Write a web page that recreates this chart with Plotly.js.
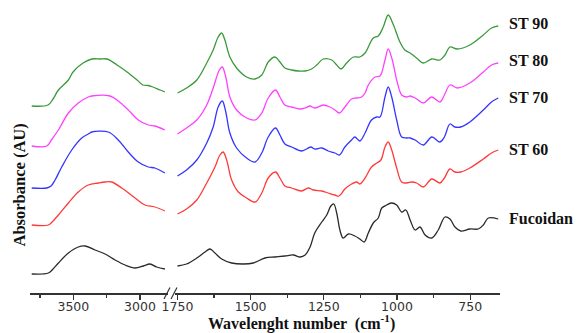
<!DOCTYPE html>
<html>
<head>
<meta charset="utf-8">
<script src="https://cdn.plot.ly/plotly-3.0.1.min.js"></script>
<style>html,body{margin:0;padding:0;background:#fff;}#chart{width:578px;height:333px;}</style>
</head>
<body>
<div id="chart"></div>
<script>
// ---------- DATA (wavenumber in cm-1, absorbance in AU, stacked as drawn) ----------
const seriesNames = ["ST 90", "ST 80", "ST 70", "ST 60", "Fucoidan"];

// ST 90
const st90LeftWn  = [3812,3690,3652,3612,3537,3502,3427,3360,3300,3247,3172,3097,3022,2978,2938,2903,2850,2813];
const st90LeftAbs = [1.87,1.88,1.94,2.03,2.13,2.21,2.30,2.34,2.34,2.34,2.28,2.21,2.13,2.08,2.075,2.06,2.03,2.01];
const st90RightWn  = [1750,1719,1684,1650,1628,1611,1599,1588,1571,1548,1514,1485,1462,1440,1417,1400,1383,1360,1337,1314,1292,1274,1252,1223,1206,1191,1172,1149,1127,1109,1081,1064,1047,1030,1012,990,973,955,933,910,881,853,836,819,794,751,705,677,654];
const st90RightAbs = [2.00,2.05,2.13,2.30,2.43,2.56,2.60,2.53,2.36,2.25,2.16,2.14,2.18,2.31,2.36,2.31,2.25,2.23,2.22,2.22,2.24,2.28,2.34,2.33,2.28,2.24,2.30,2.36,2.36,2.40,2.55,2.57,2.66,2.78,2.68,2.51,2.43,2.40,2.35,2.30,2.34,2.33,2.38,2.46,2.44,2.48,2.58,2.65,2.67];

// ST 80
const st80LeftWn  = [3812,3699,3660,3612,3537,3463,3388,3362,3225,3163,3088,3013,2938,2888,2813];
const st80LeftAbs = [1.47,1.47,1.54,1.63,1.80,1.90,1.96,1.97,1.97,1.92,1.83,1.73,1.68,1.67,1.63];
const st80RightWn  = [1750,1719,1684,1650,1628,1607,1597,1585,1571,1548,1514,1485,1462,1440,1415,1400,1383,1360,1331,1314,1297,1281,1252,1229,1212,1197,1178,1155,1138,1121,1109,1098,1075,1058,1041,1030,1016,1001,984,967,955,938,910,881,853,838,819,794,751,705,677,654];
const st80RightAbs = [1.59,1.65,1.73,1.88,2.05,2.23,2.26,2.16,1.96,1.83,1.75,1.73,1.80,1.95,2.03,1.96,1.88,1.86,1.84,1.85,1.87,1.85,1.88,1.86,1.83,1.80,1.86,1.94,1.95,1.96,2.00,2.08,2.16,2.17,2.33,2.44,2.33,2.13,1.98,1.96,1.97,1.95,1.90,1.96,1.91,1.98,2.08,2.05,2.10,2.21,2.28,2.30];

// ST 70
const st70LeftWn  = [3812,3699,3667,3637,3587,3512,3437,3375,3362,3238,3163,3088,3013,2938,2888,2813];
const st70LeftAbs = [1.05,1.05,1.07,1.13,1.26,1.43,1.55,1.60,1.61,1.61,1.53,1.41,1.31,1.26,1.25,1.20];
const st70RightWn  = [1750,1719,1684,1650,1628,1611,1597,1585,1571,1548,1514,1485,1462,1440,1415,1400,1383,1360,1326,1309,1294,1281,1257,1235,1212,1197,1178,1155,1144,1127,1109,1087,1069,1058,1041,1030,1018,1001,984,967,955,938,910,881,853,838,819,802,782,751,705,677,654];
const st70RightAbs = [1.17,1.23,1.33,1.50,1.66,1.86,1.92,1.81,1.60,1.45,1.35,1.31,1.40,1.56,1.65,1.58,1.49,1.46,1.42,1.44,1.46,1.44,1.45,1.42,1.40,1.38,1.46,1.53,1.56,1.52,1.60,1.73,1.76,1.76,1.96,2.06,1.96,1.73,1.56,1.55,1.55,1.53,1.48,1.56,1.51,1.56,1.69,1.66,1.66,1.71,1.83,1.91,1.95];

// ST 60
const st60LeftWn  = [3812,3687,3652,3612,3537,3463,3388,3313,3262,3212,3137,3037,2963,2888,2813];
const st60LeftAbs = [0.68,0.68,0.72,0.78,0.90,1.01,1.08,1.10,1.11,1.11,1.05,0.95,0.88,0.86,0.82];
const st60RightWn  = [1750,1719,1684,1650,1622,1605,1594,1582,1565,1542,1514,1485,1462,1440,1415,1400,1383,1360,1326,1303,1286,1257,1235,1212,1198,1178,1155,1138,1127,1109,1087,1069,1055,1041,1030,1018,1001,984,967,949,933,910,881,853,838,819,802,782,751,705,677,654];
const st60RightAbs = [0.79,0.84,0.93,1.10,1.26,1.38,1.41,1.33,1.13,1.01,0.95,0.91,1.00,1.15,1.21,1.15,1.07,1.05,1.02,1.05,1.03,1.02,1.00,0.98,0.97,1.04,1.09,1.11,1.09,1.15,1.26,1.30,1.33,1.46,1.51,1.43,1.25,1.11,1.10,1.11,1.10,1.06,1.14,1.10,1.15,1.24,1.21,1.21,1.25,1.34,1.40,1.43];

// Fucoidan
const fucLeftWn  = [3812,3687,3652,3612,3537,3463,3412,3337,3262,3187,3112,3037,2975,2925,2875,2813];
const fucLeftAbs = [0.19,0.20,0.24,0.30,0.40,0.46,0.47,0.43,0.39,0.33,0.28,0.25,0.27,0.29,0.26,0.24];
const fucRightWn  = [1750,1719,1684,1656,1639,1622,1599,1565,1525,1491,1451,1417,1383,1354,1331,1314,1297,1281,1257,1240,1226,1216,1206,1195,1184,1166,1144,1127,1112,1098,1081,1064,1052,1035,1018,1001,984,970,955,938,921,904,881,859,836,819,802,782,751,722,705,688,654];
const fucRightAbs = [0.27,0.29,0.35,0.41,0.44,0.40,0.34,0.30,0.29,0.30,0.35,0.36,0.37,0.38,0.36,0.38,0.46,0.60,0.71,0.78,0.87,0.89,0.80,0.63,0.55,0.59,0.57,0.54,0.51,0.60,0.70,0.75,0.85,0.88,0.90,0.88,0.81,0.83,0.73,0.63,0.66,0.58,0.55,0.63,0.76,0.74,0.66,0.62,0.64,0.64,0.68,0.75,0.74];

const seriesColors = ["#3a9a3a", "#ff40ff", "#3535ff", "#ff3a3a", "#2a2a2a"];
const leftTickVals = [3500, 3000];
const rightTickVals = [1750, 1500, 1250, 1000, 750];

// ---------- CHART ----------
const W = 578, H = 333, M = {l: 0, r: 0, t: 0, b: 40};
const PH = H - M.t - M.b;
const px = x => x / W;
const py = y => (PH - y) / PH;

const left = [[st90LeftWn, st90LeftAbs],[st80LeftWn, st80LeftAbs],[st70LeftWn, st70LeftAbs],[st60LeftWn, st60LeftAbs],[fucLeftWn, fucLeftAbs]];
const right = [[st90RightWn, st90RightAbs],[st80RightWn, st80RightAbs],[st70RightWn, st70RightAbs],[st60RightWn, st60RightAbs],[fucRightWn, fucRightAbs]];

const traces = [];
seriesNames.forEach((n, i) => {
  const ln = {color: seriesColors[i], width: 1.3, shape: 'spline', smoothing: 1.0};
  traces.push({x: left[i][0], y: left[i][1], xaxis: 'x', yaxis: 'y', mode: 'lines', name: n, line: ln, hoverinfo: 'skip'});
  traces.push({x: right[i][0], y: right[i][1], xaxis: 'x2', yaxis: 'y', mode: 'lines', name: n, line: ln, hoverinfo: 'skip', showlegend: false});
});

const axCommon = {
  showgrid: false, zeroline: false, showline: true, linecolor: '#333', linewidth: 1.5,
  ticks: 'outside', ticklen: 5, tickwidth: 1.2, tickcolor: '#333', ticklabelstandoff: -4,
  tickfont: {family: 'DejaVu Sans', size: 12.5, color: '#333'},
  anchor: 'y', fixedrange: true
};

const seriesLabelY = [23.3, 60.8, 97.5, 149, 218];
const annotations = seriesNames.map((n, i) => ({
  text: '<b>' + n + '</b>', xref: 'paper', yref: 'paper', x: px(507), y: py(seriesLabelY[i]),
  xanchor: 'left', yanchor: 'middle', showarrow: false,
  font: {family: 'Liberation Serif', size: 16, color: '#111'}
}));
annotations.push({
  text: '<b>Wavelenght number  (cm<sup>-1</sup>)</b>', xref: 'paper', yref: 'paper',
  x: px(301.5), y: py(322), xanchor: 'center', yanchor: 'middle', showarrow: false,
  font: {family: 'Liberation Serif', size: 16, color: '#111'}
});
annotations.push({
  text: '<b>Absorbance (AU)</b>', xref: 'paper', yref: 'paper', textangle: -90,
  x: px(19), y: py(185.5), xanchor: 'center', yanchor: 'middle', showarrow: false,
  font: {family: 'Liberation Serif', size: 16.5, color: '#111'}
});

const shapes = [
  {type: 'line', xref: 'paper', yref: 'paper', x0: px(164), y0: py(299), x1: px(170), y1: py(287.5), line: {color: '#333', width: 1.2}},
  {type: 'line', xref: 'paper', yref: 'paper', x0: px(171), y0: py(299), x1: px(177), y1: py(287.5), line: {color: '#333', width: 1.2}}
];

const layout = {
  width: W, height: H, margin: M, showlegend: false,
  paper_bgcolor: '#fff', plot_bgcolor: '#fff',
  xaxis: Object.assign({}, axCommon, {
    domain: [px(30), px(168)], range: [3825, 2790],
    tickvals: leftTickVals, ticktext: leftTickVals.map(String),
    minor: {tickvals: [3750, 3250], ticklen: 3, tickcolor: '#333', tickwidth: 1.2, ticks: 'outside'}
  }),
  xaxis2: Object.assign({}, axCommon, {
    domain: [px(175), px(500)], range: [1758.5, 648],
    tickvals: rightTickVals, ticktext: rightTickVals.map(String),
    minor: {tickvals: [1625, 1375, 1125, 875], ticklen: 3, tickcolor: '#333', tickwidth: 1.2, ticks: 'outside'}
  }),
  yaxis: {domain: [0, 1], range: [0, 2.93], visible: false, fixedrange: true},
  annotations: annotations, shapes: shapes
};

Plotly.newPlot('chart', traces, layout, {staticPlot: true, displayModeBar: false});
</script>
</body>
</html>
